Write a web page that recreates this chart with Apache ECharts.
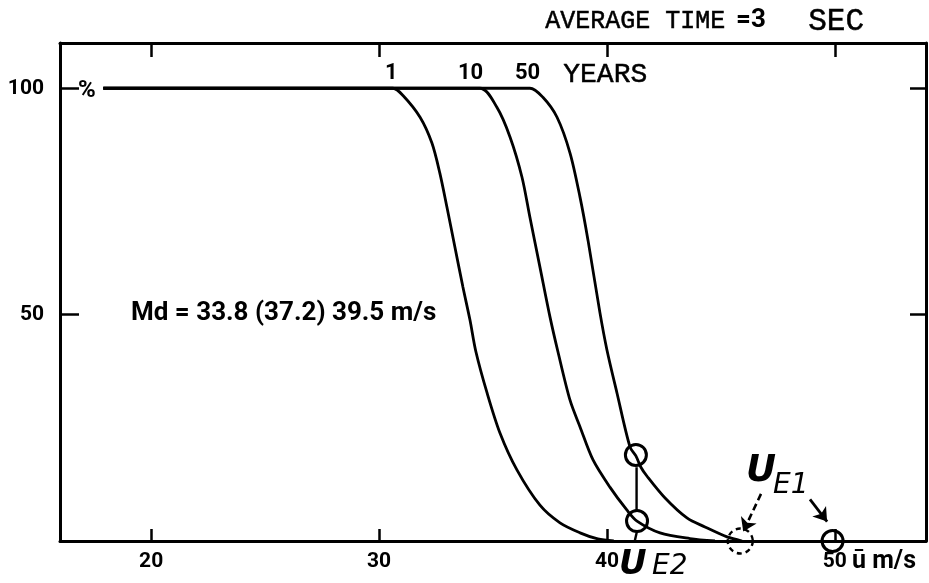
<!DOCTYPE html>
<html>
<head>
<meta charset="utf-8">
<script src="https://cdn.jsdelivr.net/npm/echarts@6/dist/echarts.min.js"></script>
<style>
  html, body { margin: 0; padding: 0; background: #fff; }
  #chart { width: 929px; height: 583px; }
</style>
</head>
<body>
<div id="chart"></div>
<script>
// ---- axis ranges & ticks ----
const xMin = 16, xMax = 54;
const yMin = 0, yMax = 110;
const xTicks = [20, 30, 40, 50];
const yTicks = [50, 100];

// ---- curves: percentage vs wind speed (m/s) ----
const curve1Year = [[17.9,100],[30.61,100],[31.05,98.4],[31.80,93.6],[32.32,87.9],[32.67,81.2],[32.98,73.7],[33.33,64.9],[33.68,56.1],[33.99,48.8],[34.25,41.8],[34.74,32.7],[35.31,23.8],[36.05,15.7],[37.06,7.9],[37.94,4.0],[38.82,1.8],[39.6,0.45],[40.3,0]];
const curve10Years = [[17.9,100],[34.43,100],[35.17,95.8],[35.75,89.2],[36.27,80.4],[36.62,71.5],[37.06,60.5],[37.50,49.5],[37.85,41.8],[38.38,31.1],[38.82,25.2],[39.39,17.9],[40.13,11.9],[40.88,6.8],[41.32,4.4],[42.33,1.8],[43.64,0.55],[44.74,0]];
const curve50Years = [[17.9,100],[36.62,100],[37.19,98.0],[37.81,93.6],[38.38,85.7],[38.82,75.9],[39.17,66.4],[39.69,50.5],[40.00,42.2],[40.44,32.7],[41.01,20.8],[41.27,18.8],[41.49,16.3],[41.76,14.3],[42.55,9.5],[43.51,5.1],[44.30,3.1],[45.27,0.9],[45.93,0]];

// ---- annotations (data coordinates) ----
const markedCircles = [[41.27,19.0],[41.32,4.4],[49.9,0]];
const dashedCircle = [[45.85,0]];
const connector = [[41.3,16.3],[41.3,6.5]];
const stem = [[41.32,2.2],[41.22,0]];
const dashedArrow = [[46.76,10.4],[45.98,2.1]];
const solidArrow = [[48.91,9.2],[49.66,4.3]];

const chart = echarts.init(document.getElementById('chart'), null, {renderer: 'canvas'});
const black = '#000';
const numFont = 'Roboto';

function curve(name, data) {
  return {
    name, type: 'line', data, showSymbol: false, smooth: 0.3,
    lineStyle: {color: black, width: 2.8}, z: 3, silent: true
  };
}

const axisLineStyle = {show: true, onZero: false, lineStyle: {color: black, width: 3}};

const option = {
  backgroundColor: '#fff',
  animation: false,
  grid: {left: 60, right: 3, top: 43, bottom: 42, show: false},
  xAxis: [
    {
      type: 'value', min: xMin, max: xMax, position: 'bottom',
      axisLine: axisLineStyle,
      axisTick: {show: true, inside: true, length: 12, customValues: xTicks, lineStyle: {color: black, width: 2.5}},
      axisLabel: {customValues: xTicks, color: black, fontSize: 21, fontWeight: 'bold', fontFamily: numFont, margin: 10},
      splitLine: {show: false}
    },
    {
      type: 'value', min: xMin, max: xMax, position: 'top',
      axisLine: axisLineStyle,
      axisTick: {show: true, inside: true, length: 14, customValues: xTicks, lineStyle: {color: black, width: 2.5}},
      axisLabel: {show: false},
      splitLine: {show: false}
    }
  ],
  yAxis: [
    {
      type: 'value', min: yMin, max: yMax, position: 'left',
      axisLine: axisLineStyle,
      axisTick: {show: true, inside: true, length: 19, customValues: yTicks, lineStyle: {color: black, width: 2.5}},
      axisLabel: {customValues: yTicks, color: black, fontSize: 21, fontWeight: 'bold', fontFamily: numFont, margin: 16},
      splitLine: {show: false}
    },
    {
      type: 'value', min: yMin, max: yMax, position: 'right',
      axisLine: axisLineStyle,
      axisTick: {show: true, inside: true, length: 16, customValues: yTicks, lineStyle: {color: black, width: 2.5}},
      axisLabel: {show: false},
      splitLine: {show: false}
    }
  ],
  series: [
    curve('1 year', curve1Year),
    curve('10 years', curve10Years),
    curve('50 years', curve50Years),
    {type: 'line', data: connector, showSymbol: false, lineStyle: {color: black, width: 2.4}, z: 3, silent: true},
    {type: 'line', data: stem, showSymbol: false, lineStyle: {color: black, width: 2.4}, z: 3, silent: true},
    {
      type: 'scatter', data: markedCircles, symbol: 'circle', symbolSize: 21,
      itemStyle: {color: 'rgba(0,0,0,0)', borderColor: black, borderWidth: 3, opacity: 1}, z: 4, silent: true
    },
    {
      type: 'scatter', data: dashedCircle, symbol: 'circle', symbolSize: 25,
      itemStyle: {color: 'rgba(0,0,0,0)', borderColor: black, borderWidth: 2.4, borderType: [5, 4], opacity: 1}, z: 4, silent: true
    },
    {
      type: 'lines', coordinateSystem: 'cartesian2d', polyline: false, silent: true, z: 4,
      symbol: ['none', 'arrow'], symbolSize: 13,
      data: [
        {coords: dashedArrow, lineStyle: {type: [7, 4], color: black, width: 2.6, opacity: 1}},
        {coords: solidArrow, lineStyle: {type: 'solid', color: black, width: 2.8, opacity: 1}}
      ],
      lineStyle: {color: black, width: 2.6, opacity: 1}
    }
  ],
  graphic: [
    {type: 'text', left: 545, top: 9, style: {text: 'AVERAGE TIME', font: '25px "Liberation Mono"', fill: black, stroke: black, lineWidth: 0.5}},
    {type: 'text', left: 736, top: 7, style: {text: '=3', font: 'bold 26px Roboto', fill: black}},
    {type: 'text', left: 808, top: 6, style: {text: 'SEC', font: '31px "Liberation Mono"', fill: black, stroke: black, lineWidth: 0.5}},
    {type: 'text', left: 385, top: 62, style: {text: '1', font: 'bold 22px Roboto', fill: black}},
    {type: 'text', left: 458, top: 62, style: {text: '10', font: 'bold 22px Roboto', fill: black}},
    {type: 'text', left: 515, top: 62, style: {text: '50', font: 'bold 22px Roboto', fill: black}},
    {type: 'text', left: 563, top: 60, style: {text: 'YEARS', font: '28px "Liberation Mono"', fill: black, stroke: black, lineWidth: 0.5}},
    {type: 'text', left: 78, top: 79, style: {text: '%', font: 'bold 24px Roboto', fill: black}},
    {type: 'text', left: 131, top: 300, style: {text: 'Md = 33.8 (37.2) 39.5 m/s', font: 'bold 26px Roboto', fill: black}},
    {type: 'text', left: 852, top: 549, style: {text: 'ū m/s', font: 'bold 25px Roboto', fill: black}},
    {type: 'text', left: 746, top: 453, style: {text: 'U', font: 'italic bold 37px "DejaVu Sans"', fill: black}},
    {type: 'text', left: 773, top: 472, style: {text: 'E1', font: 'italic 28px "DejaVu Sans"', fill: black}},
    {type: 'text', left: 619, top: 548, style: {text: 'U', font: 'italic bold 34px "DejaVu Sans"', fill: black}},
    {type: 'text', left: 652, top: 553, style: {text: 'E2', font: 'italic 28px "DejaVu Sans"', fill: black}}
  ]
};
chart.setOption(option);
</script>
</body>
</html>
